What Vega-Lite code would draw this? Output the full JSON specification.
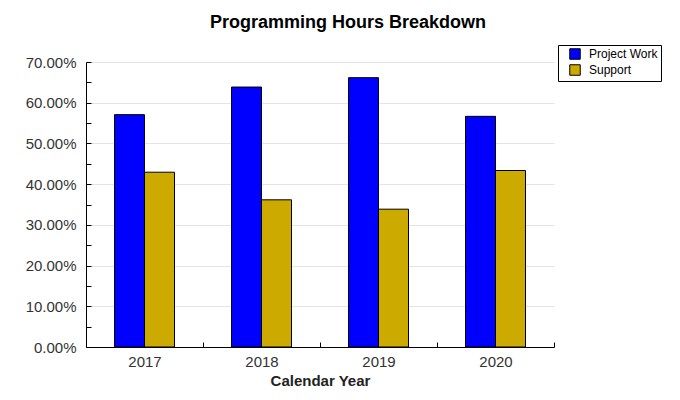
{
  "$schema": "https://vega.github.io/schema/vega-lite/v6.json",
  "autosize": {"type": "none"},
  "width": 468,
  "height": 285,
  "padding": {"left": 86, "top": 62, "right": 126, "bottom": 53},
  "background": "white",
  "title": {
    "text": "Programming Hours Breakdown",
    "font": "Liberation Sans",
    "fontSize": 18,
    "fontWeight": "bold",
    "color": "#000000",
    "anchor": "middle",
    "dx": 28,
    "offset": 13
  },
  "data": {
    "values": [
      {"year": "2017", "series": "Project Work", "value": 0.5707},
      {"year": "2017", "series": "Support", "value": 0.4293},
      {"year": "2018", "series": "Project Work", "value": 0.6385},
      {"year": "2018", "series": "Support", "value": 0.3615},
      {"year": "2019", "series": "Project Work", "value": 0.6615},
      {"year": "2019", "series": "Support", "value": 0.3385},
      {"year": "2020", "series": "Project Work", "value": 0.5665},
      {"year": "2020", "series": "Support", "value": 0.4335}
    ]
  },
  "mark": {"type": "bar", "stroke": "#000000", "strokeWidth": 1},
  "encoding": {
    "x": {
      "field": "year",
      "type": "nominal",
      "scale": {"paddingInner": 0, "paddingOuter": 0},
      "axis": {
        "title": "Calendar Year",
        "titleFont": "Liberation Sans",
        "titleFontSize": 15,
        "titleFontWeight": "bold",
        "titleColor": "#222222",
        "titlePadding": 4,
        "labelAngle": 0,
        "labelFont": "Liberation Sans",
        "labelFontSize": 15,
        "labelColor": "#333333",
        "labelPadding": 12,
        "tickBand": "extent",
        "tickSize": -5,
        "tickColor": "#000000",
        "domainColor": "#000000",
        "grid": false
      }
    },
    "xOffset": {
      "field": "series",
      "type": "nominal",
      "scale": {"paddingInner": 0, "paddingOuter": 0.95}
    },
    "y": {
      "field": "value",
      "type": "quantitative",
      "scale": {"domain": [0, 0.7], "nice": false},
      "axis": {
        "title": null,
        "values": [0, 0.05, 0.1, 0.15, 0.2, 0.25, 0.3, 0.35, 0.4, 0.45, 0.5, 0.55, 0.6, 0.65, 0.7],
        "format": ".2%",
        "labelExpr": "round(datum.value * 20) % 2 == 1 ? '' : datum.label",
        "labelFont": "Liberation Sans",
        "labelFontSize": 15,
        "labelColor": "#333333",
        "labelPadding": 15,
        "tickSize": -5,
        "tickColor": "#000000",
        "domainColor": "#000000",
        "grid": true,
        "gridColor": "#e4e4e4",
        "gridOpacity": {"condition": {"test": "round(datum.value * 20) % 2 == 1", "value": 0}, "value": 1}
      }
    },
    "color": {
      "field": "series",
      "type": "nominal",
      "scale": {"domain": ["Project Work", "Support"], "range": ["#0000ff", "#ccaa00"]},
      "legend": {
        "title": null,
        "orient": "none",
        "legendX": 472,
        "legendY": -17,
        "symbolType": "square",
        "symbolSize": 110,
        "symbolStrokeColor": "#000000",
        "symbolStrokeWidth": 1,
        "symbolOpacity": 1,
        "symbolOffset": 8,
        "labelFont": "Liberation Sans",
        "labelFontSize": 12,
        "labelColor": "#000000",
        "labelOffset": 8,
        "rowPadding": 0,
        "padding": 3,
        "strokeColor": "#000000",
        "fillColor": "#ffffff"
      }
    }
  },
  "config": {
    "view": {"stroke": null}
  }
}
